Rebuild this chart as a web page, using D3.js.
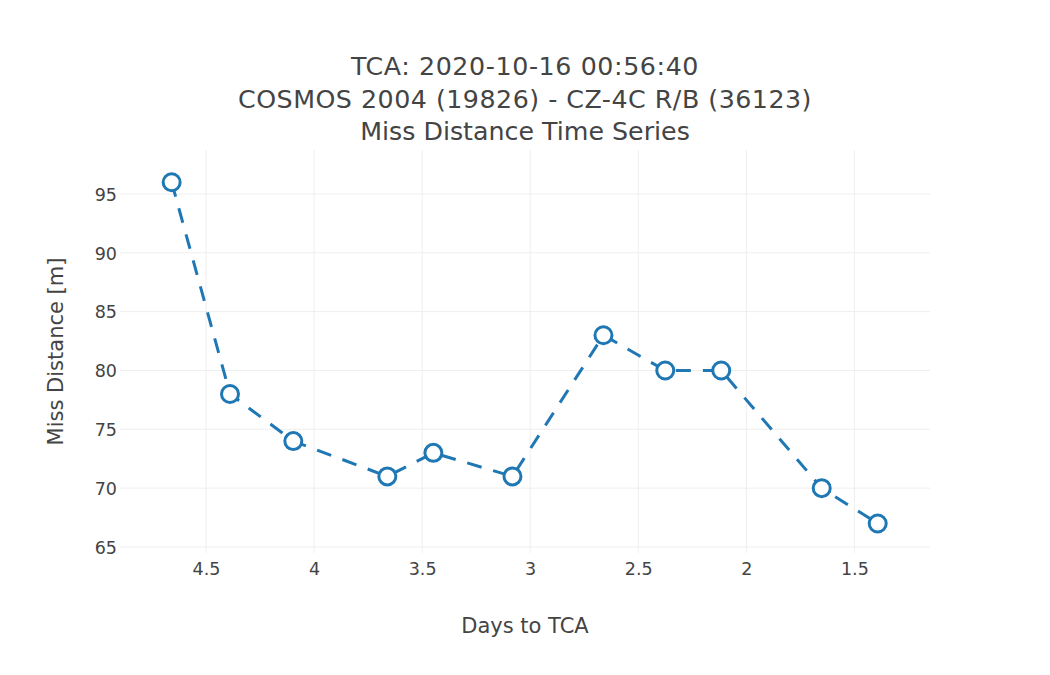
<!DOCTYPE html>
<html>
<head>
<meta charset="utf-8">
<script src="https://cdn.jsdelivr.net/npm/d3@7"></script>
<style>
  html, body { margin: 0; padding: 0; background: #fff; }
  svg { display: block; font-family: "DejaVu Sans", Verdana, sans-serif; }
</style>
</head>
<body>
<svg id="chart" width="1050" height="675"></svg>
<script>
// ---- data ----
const daysToTCA = [4.659, 4.389, 4.096, 3.661, 3.448, 3.082, 2.661, 2.375, 2.116, 1.651, 1.392];
const missDistance = [96, 78, 74, 71, 73, 71, 83, 80, 80, 70, 67];
const xTicks = [4.5, 4, 3.5, 3, 2.5, 2, 1.5];
const yTicks = [65, 70, 75, 80, 85, 90, 95];
const titleLines = ["TCA: 2020-10-16 00:56:40", "COSMOS 2004 (19826) - CZ-4C R/B (36123)", "Miss Distance Time Series"];
const xTitle = "Days to TCA";
const yTitle = "Miss Distance [m]";

// ---- layout ----
const W = 1050, H = 675;
const plot = { left: 120, right: 930, top: 150, bottom: 553 };
const textColor = "#444";
const gridColor = "#eeeeee";
const lineColor = "#1f77b4";

const svg = d3.select("#chart");
svg.append("rect").attr("width", W).attr("height", H).attr("fill", "#fff");

const x = d3.scaleLinear().domain([4.898, 1.150]).range([plot.left, plot.right]);
const y = d3.scaleLinear().domain([64.49, 98.74]).range([plot.bottom, plot.top]);

// grid
const gx = svg.append("g").attr("class", "xgrid");
gx.selectAll("line").data(xTicks).join("line")
  .attr("x1", d => x(d)).attr("x2", d => x(d))
  .attr("y1", plot.top).attr("y2", plot.bottom)
  .attr("stroke", gridColor).attr("stroke-width", 1);
const gy = svg.append("g").attr("class", "ygrid");
gy.selectAll("line").data(yTicks).join("line")
  .attr("x1", plot.left).attr("x2", plot.right)
  .attr("y1", d => y(d)).attr("y2", d => y(d))
  .attr("stroke", gridColor).attr("stroke-width", 1);

// axes (labels only, via d3 axes)
const xAxis = d3.axisBottom(x).tickValues(xTicks).tickSize(0).tickPadding(0).tickFormat(d3.format("~g"));
const xg = svg.append("g").attr("transform", `translate(0,${plot.bottom})`).call(xAxis);
xg.select(".domain").remove();
xg.attr("font-family", null).attr("font-size", null);
xg.selectAll("text").attr("fill", textColor).attr("font-size", 17.5)
  .attr("dy", null).attr("y", 22);

const yAxis = d3.axisLeft(y).tickValues(yTicks).tickSize(0).tickPadding(0).tickFormat(d3.format("~g"));
const yg = svg.append("g").attr("transform", `translate(${plot.left - 3},0)`).call(yAxis);
yg.select(".domain").remove();
yg.attr("font-family", null).attr("font-size", null);
yg.selectAll("text").attr("fill", textColor).attr("font-size", 17.5).attr("dy", "0.36em");

// axis titles
svg.append("text").attr("x", (plot.left + plot.right) / 2).attr("y", 633)
  .attr("text-anchor", "middle").attr("fill", textColor).attr("font-size", 21).text(xTitle);
svg.append("text").attr("transform", `translate(63,${(plot.top + plot.bottom) / 2}) rotate(-90)`)
  .attr("text-anchor", "middle").attr("fill", textColor).attr("font-size", 21).text(yTitle);

// title
const tBase = [75, 107.5, 140];
const tSpacing = [0.6, 0.5, 0];
svg.append("g").selectAll("text").data(titleLines).join("text")
  .attr("x", W / 2).attr("y", (d, i) => tBase[i])
  .attr("text-anchor", "middle").attr("fill", textColor).attr("font-size", 25.3)
  .attr("letter-spacing", (d, i) => tSpacing[i])
  .text(d => d);

// data
const pts = daysToTCA.map((d, i) => ({ x: d, y: missDistance[i] }));
const line = d3.line().x(d => x(d.x)).y(d => y(d.y));
svg.append("path").datum(pts).attr("d", line)
  .attr("fill", "none").attr("stroke", lineColor).attr("stroke-width", 3)
  .attr("stroke-dasharray", "15,12");
svg.append("g").selectAll("circle").data(pts).join("circle")
  .attr("cx", d => x(d.x)).attr("cy", d => y(d.y)).attr("r", 8.5)
  .attr("fill", "#fff").attr("stroke", lineColor).attr("stroke-width", 3);
</script>
</body>
</html>
